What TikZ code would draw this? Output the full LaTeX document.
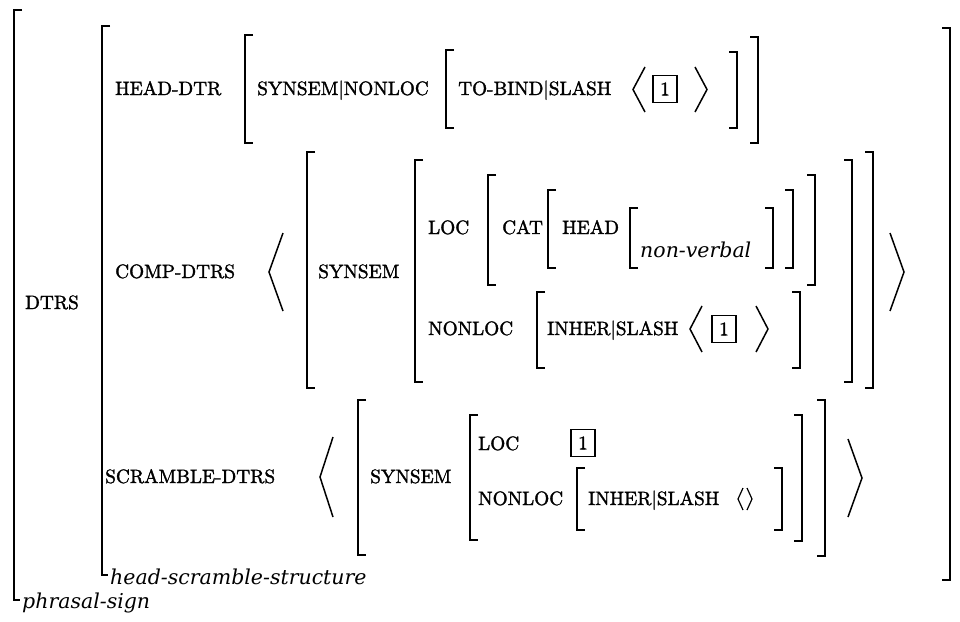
\documentclass[tikz,border=0pt]{standalone}
\usepackage{fontspec}
\setmainfont{DejaVu Serif}
\newfontfamily\capsfont{lmroman10-regular.otf}[FakeBold=1.6]
\newcommand\LBr[3]{\draw[br] ({#1+8},#2) -- (#1,#2) -- (#1,#3) -- ({#1+8},#3);}
\newcommand\RBr[3]{\draw[br] ({#1-8},#2) -- (#1,#2) -- (#1,#3) -- ({#1-8},#3);}
\newcommand\LAng[4]{\draw[ang] (#2,#3) -- (#1,{(#3+#4)/2}) -- (#2,#4);}
\begin{document}
\begin{tikzpicture}[x=1pt,y=-1pt,
  br/.style={line width=1.8pt},
  ang/.style={line width=1.5pt},
  lbl/.style={inner sep=0pt, anchor=base west, font=\capsfont\fontsize{19.3}{23}\selectfont},
  typ/.style={inner sep=0pt, anchor=base west, font=\fontsize{20.5}{24}\selectfont\itshape},
  tag/.style={draw, line width=1.4pt, minimum width=24pt, minimum height=27pt, inner sep=0pt, font=\capsfont\fontsize{19.3}{23}\selectfont}]
\useasboundingbox (0,0) rectangle (960,621);
% outer brackets
\draw[br] (22,10) -- (14,10) -- (14,600) -- (20,600);
\draw[br] (110,26) -- (102,26) -- (102,575) -- (108,575);
\RBr{950}{28}{580}
\node[lbl] (dtrs) at (25,309) {DTRS};
\node[typ] (ps) at (22,608) {phrasal-sign};
\node[typ] (hss) at (110,584) {head-scramble-structure};
% HEAD-DTR
\node[lbl] (hd) at (115,95) {HEAD-DTR};
\LBr{245}{35}{143}
\node[lbl] (ssnl) at (257,95) {SYNSEM|NONLOC};
\LBr{446}{50}{128}
\node[lbl] (tbs) at (458,95) {TO-BIND|SLASH};
\LAng{633}{645}{67}{112}
\node[tag] (t1) at (665,89) {1};
\LAng{707}{695}{67}{112}
\RBr{737}{52}{128}
\RBr{758}{37}{143}
% COMP-DTRS
\node[lbl] (cd) at (115,278) {COMP-DTRS};
\LAng{269}{283}{233}{311}
\LBr{307}{152}{388}
\node[lbl] (ss1) at (318,278) {SYNSEM};
\LBr{415}{160}{382}
\node[lbl] (loc1) at (428,234) {LOC};
\LBr{488}{175}{285}
\node[lbl] (cat) at (502,234) {CAT};
\LBr{548}{190}{268}
\node[lbl] (head) at (562,234) {HEAD};
\LBr{630}{208}{268}
\node[typ] (nv) at (640,257) {non-verbal};
\RBr{773}{208}{268}
\RBr{793}{190}{268}
\RBr{815}{175}{285}
\node[lbl] (nl1) at (428,335) {NONLOC};
\LBr{537}{292}{368}
\node[lbl] (is1) at (547,335) {INHER|SLASH};
\LAng{690}{702}{306}{352}
\node[tag] (t2) at (724,329) {1};
\LAng{768}{756}{306}{352}
\RBr{800}{292}{368}
\RBr{852}{160}{382}
\RBr{873}{152}{388}
\LAng{904}{890}{233}{311}
% SCRAMBLE-DTRS
\node[lbl] (sd) at (105,483) {SCRAMBLE-DTRS};
\LAng{320}{333}{437}{517}
\LBr{358}{400}{555}
\node[lbl] (ss2) at (370,483) {SYNSEM};
\LBr{470}{415}{540}
\node[lbl] (loc2) at (478,450) {LOC};
\node[tag] (t3) at (583,443) {1};
\node[lbl] (nl2) at (478,505) {NONLOC};
\LBr{577}{468}{530}
\node[lbl] (is2) at (588,505) {INHER|SLASH};
\draw[ang, line width=1.2pt] (743,488) -- (738,499) -- (743,510);
\draw[ang, line width=1.2pt] (747,488) -- (752,499) -- (747,510);
\RBr{782}{468}{530}
\RBr{802}{415}{541}
\RBr{825}{400}{556}
\LAng{862}{848}{439}{517}
\end{tikzpicture}
\end{document}
